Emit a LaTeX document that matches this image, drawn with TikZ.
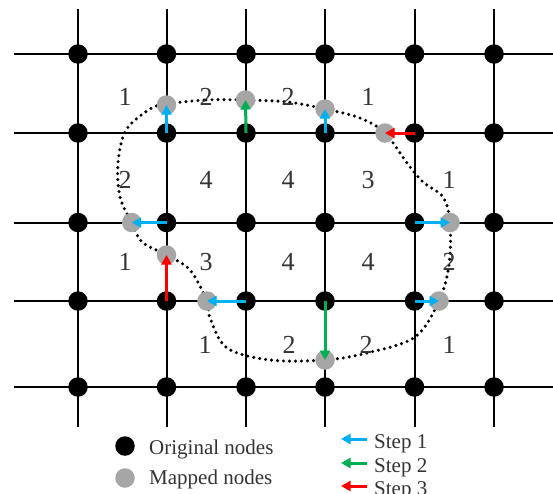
\documentclass[tikz,border=0pt]{standalone}
\usepackage{fontspec}
\setmainfont{Liberation Serif}
\usetikzlibrary{arrows.meta}
\definecolor{stepone}{RGB}{0,176,240}
\definecolor{steptwo}{RGB}{0,176,80}
\definecolor{stepthree}{RGB}{255,0,0}
\definecolor{mapgray}{RGB}{166,166,166}
\begin{document}
\begin{tikzpicture}[x=1pt,y=-1pt,
  orignode/.style={circle,fill=black,minimum size=19.5pt,inner sep=0pt},
  mapnode/.style={circle,fill=mapgray,minimum size=19.5pt,inner sep=0pt},
  gridline/.style={line width=2pt},
  steparrow/.style={line width=3pt,-{Triangle[length=9.5pt,width=10pt]}},
  celllabel/.style={font=\fontsize{26}{26}\selectfont,text=black!80,inner sep=0pt},
  legtext/.style={font=\fontsize{21}{24}\selectfont,text=black!80,inner sep=0pt,anchor=base west}]
\useasboundingbox (0,0) rectangle (553,493);

  % Grid lines (columns and rows are not evenly spaced)
  \foreach \x in {78,166.5,246,325,414.5,494}
    \draw[gridline] (\x,9) -- (\x,427);
  \foreach \y in {54,133,222.5,301,387}
    \draw[gridline] (14,\y) -- (553,\y);

  % Boundary through the mapped nodes
  \draw[line width=3.4pt, line cap=round, dash pattern=on 0pt off 6pt]
    plot[smooth cycle, tension=0.55] coordinates {(166.5,104)(206,100)(245.5,100)(288,102)(325,109)(360,118)(385,133)(407,163)(423,182)(443,197)(450,222.5)(449,265)(439,301)(415,337)(367,353)(325,360)(270,360)(227,348)(210,318)(207,301)(190,270)(166.5,255)(142,242)(131.7,222.5)(120,197)(118,163)(126,130)(150,109)};

  % Original nodes
  \foreach \c/\x in {1/78,2/166.5,3/246,4/325,5/414.5,6/494}{
    \foreach \r/\y in {1/54,2/133,3/222.5,4/301,5/387}{
      \node[orignode] (n-\c-\r) at (\x,\y) {};
    }
  }

  % Mapped nodes
  \foreach \m/\x/\y in {1/166.5/105,2/245.5/100,3/325/109,4/385/133,5/450/222.5,
                        6/131.7/222.5,7/166.5/255,8/207/301,9/325/360,10/439/301}{
    \node[mapnode] (m\m) at (\x,\y) {};
  }

  % Steps: original -> mapped
  \foreach \a/\b/\col in {n-2-2/m1/stepone,n-3-2/m2/steptwo,n-4-2/m3/stepone,
                          n-5-2/m4/stepthree,n-5-3/m5/stepone,n-2-3/m6/stepone,
                          n-2-4/m7/stepthree,n-3-4/m8/stepone,n-4-4/m9/steptwo,
                          n-5-4/m10/stepone}{
    \draw[steparrow,\col] (\a.center) -- (\b.center);
  }

  % Cell values
  \foreach \x/\y/\t [count=\i] in {125/97/1,206/97/2,288/97/2,368/97/1,
      125/180/2,206/180/4,288/180/4,368/180/3,449/180/1,
      125/262/1,206/262/3,288/262/4,368/262/4,449/262/2,
      205/345/1,289/345/2,366/345/2,449/345/1}{
    \node[celllabel] (v\i) at (\x,\y) {\t};
  }

  % Legend
  \node[orignode] (leg-o) at (125,446) {};
  \node[mapnode]  (leg-m) at (125,478) {};
  \node[legtext] (leg-ot) at (149,454) {Original nodes};
  \node[legtext] (leg-mt) at (149,484) {Mapped nodes};
  \foreach \i/\y/\col in {1/448/stepone,2/472/steptwo,3/495/stepthree}{
    \node[legtext] (s\i) at (374,\y) {Step \i};
    \draw[steparrow,\col] ([xshift=-7pt,yshift=9pt]s\i.base west) -- ([xshift=-33pt,yshift=9pt]s\i.base west);
  }
\end{tikzpicture}
\end{document}
